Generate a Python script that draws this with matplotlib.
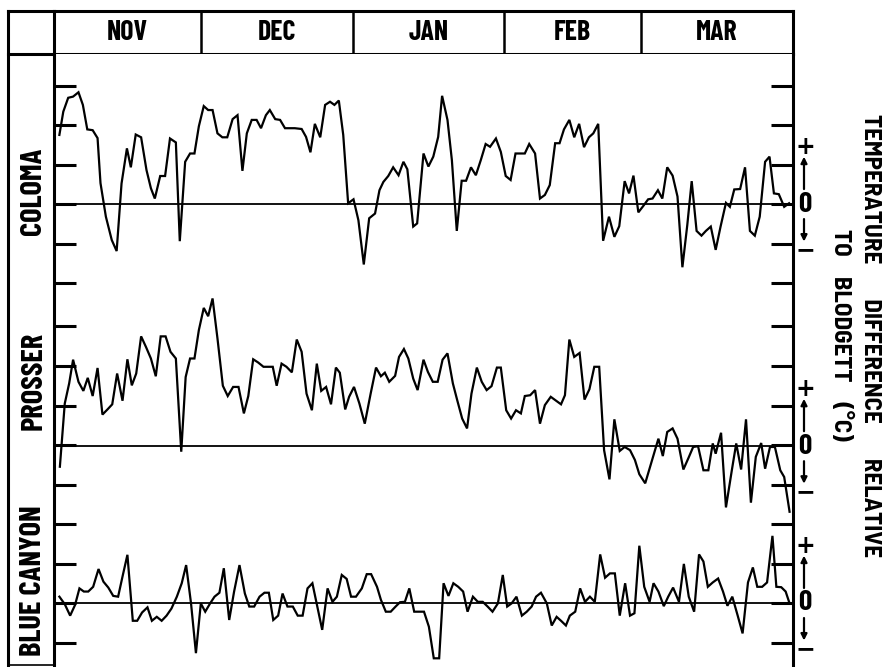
import matplotlib
matplotlib.use("Agg")
import matplotlib.pyplot as plt
from matplotlib.transforms import blended_transform_factory

plt.rcParams['font.family'] = ['Barlow Condensed', 'DejaVu Sans']
plt.rcParams['font.weight'] = 'bold'

# months along the top, with their day counts (Nov 1 .. Mar 31)
months = ['NOV', 'DEC', 'JAN', 'FEB', 'MAR']
month_days = [30, 31, 31, 28, 31]

stations = ['COLOMA', 'PROSSER', 'BLUE CANYON']

# temperature difference to Blodgett (deg C), day counted from Nov 1
coloma_day = [1.1, 1.9, 2.9, 3.9, 5.0, 5.9, 6.8, 7.9, 8.9, 9.5,
              10.6, 11.8, 12.8, 13.8, 14.9, 15.7, 16.7, 17.8, 18.9, 19.8,
              20.6, 21.7, 22.7, 23.7, 24.9, 25.7, 26.8, 27.8, 28.7, 29.6,
              30.6, 31.5, 32.4, 33.4, 34.4, 35.4, 36.5, 37.5, 38.5, 39.4,
              40.4, 41.4, 42.3, 43.3, 44.1, 45.2, 46.2, 47.2, 48.2, 49.2,
              50.6, 51.5, 52.4, 53.3, 54.4, 55.4, 56.4, 57.3, 58.2, 59.1,
              60.1, 61.2, 62.2, 63.3, 64.4, 65.6, 66.5, 67.3, 68.3, 69.3,
              70.4, 71.4, 72.2, 73.4, 74.2, 75.5, 76.5, 77.5, 78.5, 79.3,
              80.4, 81.3, 82.3, 83.3, 84.2, 85.2, 86.2, 87.2, 88.2, 89.1,
              90.3, 91.3, 92.3, 93.3, 94.3, 95.2, 96.2, 97.1, 98.3, 99.3,
              100.3, 101.3, 102.4, 103.3, 104.2, 105.3, 106.3, 107.3, 108.3, 109.3,
              110.2, 111.2, 112.2, 113.4, 114.5, 115.5, 116.6, 117.5, 118.4, 119.4,
              120.4, 121.4, 122.3, 123.4, 124.3, 125.3, 126.4, 127.4, 128.4, 129.4,
              130.3, 131.3, 132.3, 133.2, 134.2, 135.2, 136.2, 137.3, 138.1, 139.0,
              140.2, 141.2, 142.2, 143.2, 144.2, 145.3, 146.2, 147.1, 148.1, 149.2,
              150.2]
coloma_val = [1.75, 2.34, 2.69, 2.72, 2.83, 2.51, 1.89, 1.87, 1.67, 0.53,
              -0.32, -0.91, -1.19, 0.52, 1.41, 0.93, 1.76, 1.69, 0.86, 0.40,
              0.14, 0.71, 0.71, 1.66, 1.56, -0.94, 1.07, 1.28, 1.28, 1.97,
              2.48, 2.38, 2.38, 1.79, 1.69, 1.69, 2.15, 2.25, 0.84, 1.79,
              2.13, 2.13, 1.92, 2.25, 2.38, 2.15, 2.13, 1.92, 1.92, 1.92,
              1.90, 1.70, 1.31, 2.03, 1.69, 2.51, 2.59, 2.51, 2.62, 1.75,
              0.02, 0.12, -0.41, -1.53, -0.36, -0.24, 0.35, 0.56, 0.71, 0.93,
              0.73, 1.07, 0.88, -0.57, -0.49, 1.28, 0.95, 1.20, 1.70, 2.74,
              2.13, 1.11, -0.68, 0.59, 0.59, 0.93, 0.73, 1.11, 1.52, 1.45,
              1.66, 1.32, 0.71, 0.61, 1.28, 1.28, 1.28, 1.52, 1.28, 0.14,
              0.23, 0.48, 1.54, 1.54, 1.89, 2.13, 1.69, 2.03, 1.44, 1.69,
              1.79, 2.03, -0.93, -0.32, -0.83, -0.56, 0.58, 0.27, 0.72, -0.21,
              -0.05, 0.12, 0.14, 0.35, 0.14, 0.93, 0.72, 0.19, -1.60, -0.53,
              0.58, -0.68, -0.80, -0.68, -0.57, -1.16, -0.57, 0.03, -0.07, 0.37,
              0.38, 0.93, -0.68, -0.80, -0.32, 1.07, 1.20, 0.27, 0.25, -0.07,
              0.02]

prosser_day = [1.2, 2.2, 3.1, 3.9, 5.0, 6.0, 6.9, 7.9, 8.9, 9.9,
               11.0, 11.9, 12.9, 14.0, 15.0, 15.9, 16.8, 17.8, 18.8, 19.8,
               20.8, 21.8, 22.8, 23.8, 24.9, 26.0, 26.9, 27.8, 28.7, 29.6,
               30.6, 31.5, 32.4, 33.4, 34.5, 35.5, 36.6, 37.7, 38.8, 39.7,
               40.7, 41.7, 42.8, 43.8, 44.7, 45.5, 46.5, 47.5, 48.6, 49.6,
               50.6, 51.6, 52.7, 53.7, 54.6, 55.6, 56.6, 57.6, 58.4, 59.5,
               60.3, 61.3, 62.4, 63.5, 64.7, 65.8, 66.8, 67.6, 68.5, 69.7,
               70.5, 71.5, 72.4, 73.4, 74.3, 75.5, 76.4, 77.4, 78.4, 79.4,
               80.4, 81.5, 82.4, 83.4, 84.4, 85.3, 86.4, 87.4, 88.4, 89.4,
               90.5, 91.3, 92.4, 93.4, 94.4, 95.4, 96.2, 97.3, 98.3, 99.3,
               100.3, 101.5, 102.5, 103.6, 104.4, 105.3, 106.3, 107.4, 108.4, 109.4,
               110.4, 111.4, 112.4, 113.5, 114.5, 115.6, 116.6, 117.7, 118.7, 119.6,
               120.8, 123.5, 124.4, 125.3, 126.4, 127.4, 128.6, 129.6, 130.6, 131.6,
               132.7, 133.7, 134.6, 135.2, 136.3, 137.3, 138.5, 139.4, 140.4, 141.4,
               142.4, 143.4, 144.5, 145.3, 146.3, 147.3, 148.4, 149.2, 150.3]
prosser_val = [-0.52, 1.08, 1.59, 2.19, 1.63, 1.40, 1.73, 1.27, 1.98, 0.80,
               0.94, 1.06, 1.84, 1.15, 2.20, 1.54, 1.84, 2.78, 2.51, 2.22,
               1.77, 2.78, 2.78, 2.39, 2.22, -0.14, 1.75, 2.22, 2.22, 2.94,
               3.50, 3.29, 3.74, 2.73, 1.53, 1.27, 1.50, 1.50, 0.83, 1.27,
               2.20, 2.12, 2.01, 2.01, 2.01, 1.53, 2.09, 2.01, 1.87, 2.70,
               2.39, 1.33, 0.91, 2.09, 1.40, 1.50, 1.06, 1.99, 1.86, 0.93,
               1.25, 1.50, 1.08, 0.57, 1.33, 1.99, 1.77, 1.86, 1.63, 1.78,
               2.26, 2.46, 2.22, 1.71, 1.42, 2.19, 1.88, 1.63, 1.63, 2.19,
               2.35, 1.59, 1.16, 0.70, 0.45, 1.33, 1.99, 1.63, 1.42, 1.52,
               1.99, 1.99, 0.91, 0.70, 0.91, 0.83, 1.27, 1.29, 1.42, 0.57,
               1.04, 1.25, 1.16, 1.06, 1.29, 2.70, 2.26, 2.36, 1.18, 1.44,
               2.01, 2.01, -0.10, -0.84, 0.68, -0.12, -0.02, -0.10, -0.35, -0.71,
               -0.94, 0.19, -0.25, 0.36, 0.45, 0.19, -0.59, -0.31, -0.02, 0.00,
               -0.61, -0.61, 0.07, -0.19, 0.34, -1.55, -0.61, 0.07, -0.59, 0.68,
               -1.43, -0.27, 0.08, -0.57, -0.02, -0.02, -0.61, -0.78, -1.66]

blue_day = [1.1, 2.2, 3.3, 4.3, 5.2, 6.1, 7.0, 8.0, 9.1, 10.1,
            11.1, 12.1, 13.1, 14.0, 15.0, 16.1, 17.0, 18.0, 19.1, 20.0,
            21.0, 22.0, 23.0, 24.0, 25.1, 26.1, 27.0, 28.0, 29.0, 30.0,
            30.9, 31.9, 32.8, 33.8, 34.7, 35.8, 36.8, 37.9, 39.0, 39.9,
            40.9, 42.0, 43.0, 43.9, 44.8, 45.8, 46.7, 47.7, 48.8, 49.8,
            50.8, 51.8, 52.8, 53.8, 54.8, 55.9, 56.9, 57.8, 58.8, 59.8,
            60.7, 61.7, 62.9, 63.9, 64.8, 66.0, 66.8, 67.8, 68.8, 69.8,
            70.7, 71.7, 72.6, 73.6, 74.6, 75.6, 76.6, 77.6, 78.7, 79.6,
            80.6, 81.6, 82.6, 83.6, 84.5, 85.6, 86.6, 87.6, 88.6, 89.6,
            90.7, 91.7, 92.6, 93.5, 94.5, 95.6, 96.6, 97.6, 98.5, 99.5,
            100.7, 101.7, 102.7, 103.6, 104.6, 105.4, 106.5, 107.5, 108.5, 109.5,
            110.5, 111.6, 112.6, 113.6, 114.6, 115.6, 116.7, 117.7, 118.6, 119.6,
            120.6, 121.7, 122.5, 123.5, 124.6, 125.5, 126.5, 127.7, 128.7, 129.7,
            130.8, 131.8, 132.7, 133.6, 134.6, 135.7, 136.7, 137.6, 138.6, 139.7,
            140.7, 141.8, 142.8, 143.7, 144.7, 145.7, 146.8, 147.6, 148.6, 149.5,
            150.3]
blue_val = [0.16, -0.03, -0.32, -0.05, 0.37, 0.29, 0.29, 0.41, 0.86, 0.54,
            0.39, 0.18, 0.16, 0.67, 1.22, -0.45, -0.45, -0.24, -0.11, -0.45,
            -0.35, -0.45, -0.32, -0.14, 0.16, 0.50, 0.96, -0.01, -1.27, -0.01,
            -0.22, -0.01, 0.16, 0.26, 0.88, -0.43, 0.29, 0.96, 0.24, -0.09,
            -0.09, 0.16, 0.26, 0.26, -0.43, -0.32, 0.24, -0.09, -0.09, -0.32,
            -0.32, 0.37, 0.50, -0.09, -0.68, 0.37, 0.03, 0.16, 0.71, 0.61,
            0.16, 0.16, 0.37, 0.73, 0.73, 0.41, 0.08, -0.22, -0.22, -0.09,
            0.02, 0.03, 0.37, -0.22, -0.22, -0.22, -0.60, -1.40, -1.40, 0.50,
            0.18, 0.50, 0.41, 0.29, -0.22, 0.16, 0.03, 0.03, -0.09, -0.22,
            -0.01, 0.71, -0.09, -0.01, 0.16, -0.32, -0.22, -0.09, 0.16, 0.26,
            -0.01, -0.57, -0.35, -0.45, -0.57, -0.32, -0.22, 0.37, 0.03, 0.16,
            0.03, 1.23, 0.64, 0.75, 0.75, -0.32, 0.50, -0.32, -0.26, 1.45,
            0.41, 0.03, 0.50, 0.29, -0.08, 0.16, 0.39, 0.03, 0.99, 0.16,
            -0.22, 1.23, 1.05, 0.41, 0.52, 0.62, 0.29, -0.07, 0.16, -0.32,
            -0.77, 0.52, 0.90, 0.41, 0.41, 0.52, 1.70, 0.41, 0.40, 0.29,
            -0.01]

# tick marks (deg C) drawn for each station strip
coloma_ticks = [-2, -1, 0, 1, 2, 3]
prosser_ticks = [-1, 0, 1, 2, 3]
blue_ticks = [-1, 0, 1, 2, 3]

# vertical offset of each strip's zero line (deg C) in the stacked axes
offsets = [10.1, 3.97, 0.0]

W, H = 892, 667
fig = plt.figure(figsize=(W / 100, H / 100), dpi=100)

# frame geometry in pixels
x_left, x_col, x_right = 8, 54, 793
y_top, y_head, y_bot = 11, 54, 665
lw_frame = 2.2

frame = fig.add_axes([0, 0, 1, 1])
frame.set_xlim(0, W)
frame.set_ylim(H, 0)
frame.axis('off')
frame.plot([x_left, x_left], [y_top, y_bot], color='k', lw=lw_frame, solid_capstyle='projecting')
frame.plot([x_left, x_col], [y_top, y_top], color='k', lw=lw_frame, solid_capstyle='projecting')
frame.plot([x_left, x_col], [y_head, y_head], color='k', lw=lw_frame, solid_capstyle='projecting')
frame.plot([x_left, x_col], [y_bot, y_bot], color='k', lw=1.2)

# header with month boxes
total_days = sum(month_days)
hax = fig.add_axes([x_col / W, 1 - y_head / H, (x_right - x_col) / W, (y_head - y_top) / H])
hax.set_xlim(0, total_days)
hax.set_ylim(0, 1)
hax.set_xticks([])
hax.set_yticks([])
for s in hax.spines.values():
    s.set_linewidth(lw_frame)
start = 0
for m, n in zip(months, month_days):
    if start > 0:
        hax.axvline(start, color='k', lw=1.8)
    hax.text(start + n / 2, 0.5, m, ha='center', va='center', fontsize=20, fontweight='bold')
    start += n

# main strip chart
ax = fig.add_axes([x_col / W, 1 - y_bot / H, (x_right - x_col) / W, (y_bot - y_head) / H])
px_per_unit = 39.5
ax.set_xlim(0, total_days)
ax.set_ylim((603 - y_bot) / px_per_unit, (603 - y_head) / px_per_unit)
ax.set_xticks([])
ax.spines['bottom'].set_visible(False)
ax.spines['top'].set_visible(False)
for side in ['left', 'right']:
    ax.spines[side].set_linewidth(lw_frame)

series = [(coloma_day, coloma_val), (prosser_day, prosser_val), (blue_day, blue_val)]
tick_sets = [coloma_ticks, prosser_ticks, blue_ticks]
all_ticks = []
for (d, v), off, tks in zip(series, offsets, tick_sets):
    ax.axhline(off, color='k', lw=1.3)
    ax.plot(d, [val + off for val in v], color='k', lw=1.6, solid_joinstyle='miter')
    for t in tks:
        yt = round(t + off, 1)
        if all(abs(yt - a) > 0.3 for a in all_ticks):
            all_ticks.append(yt)
ax.set_yticks(all_ticks)
ax.tick_params(axis='y', direction='in', length=16, width=2.2, left=True, right=True,
               labelleft=False, labelright=False)

# station names in the left column
name_y = [191, 381, 581]
for name, yy in zip(stations, name_y):
    frame.text(34, yy, name, rotation=90, ha='center', va='center', fontsize=22, fontweight='bold')

# + / 0 / - keys on the right
blend = blended_transform_factory(frame.transData, ax.transData)
for off in offsets:
    ax.text(805, off + 1.45, '+', transform=blend, ha='center', va='center', fontsize=17,
            fontweight='bold', family='DejaVu Sans')
    ax.text(805, off, '0', transform=blend, ha='center', va='center', fontsize=21, fontweight='bold')
    ax.text(805, off - 1.17, '\u2212', transform=blend, ha='center', va='center', fontsize=17,
            fontweight='bold', family='DejaVu Sans')
    ax.annotate('', xy=(804, off + 1.2), xytext=(804, off + 0.38), xycoords=blend, textcoords=blend,
                arrowprops=dict(arrowstyle='-|>', color='k', lw=1.6, mutation_scale=9, shrinkA=0, shrinkB=0),
                annotation_clip=False)
    ax.annotate('', xy=(804, off - 0.95), xytext=(804, off - 0.38), xycoords=blend, textcoords=blend,
                arrowprops=dict(arrowstyle='-|>', color='k', lw=1.6, mutation_scale=9, shrinkA=0, shrinkB=0),
                annotation_clip=False)

frame.text(855, 335, 'TEMPERATURE       DIFFERENCE       RELATIVE\nTO    BLODGETT    (\u00b0C)',
           rotation=-90, ha='center', va='center', multialignment='center', fontsize=18, fontweight='bold',
           family=['Barlow Semi Condensed', 'DejaVu Sans'], linespacing=1.4)

fig.savefig('out.png', dpi=100)
